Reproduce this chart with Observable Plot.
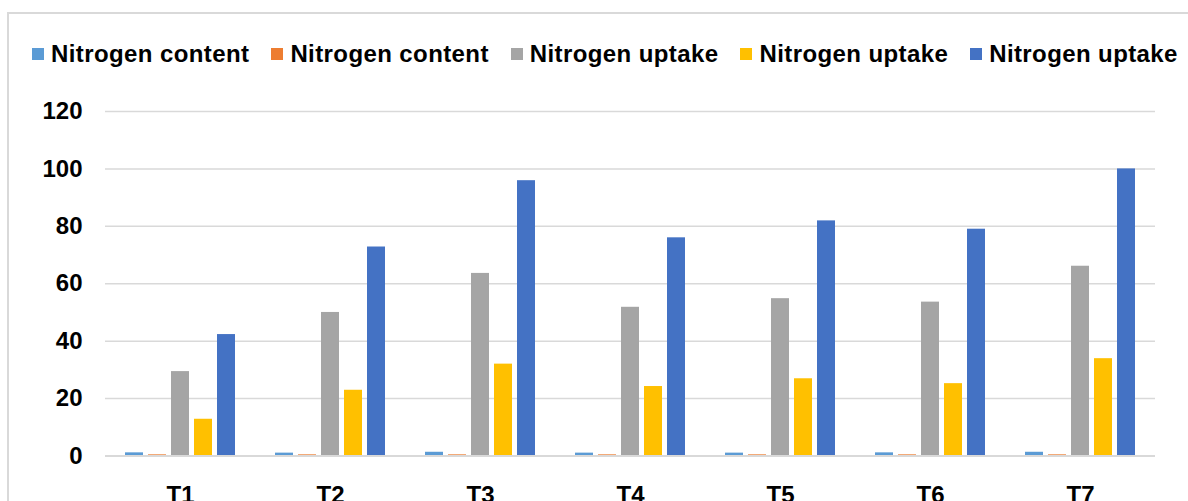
<!DOCTYPE html>
<html>
<head>
<meta charset="utf-8">
<script src="https://cdn.jsdelivr.net/npm/d3@7"></script>
<script src="https://cdn.jsdelivr.net/npm/@observablehq/plot@0.6"></script>
<style>
  html, body { margin: 0; padding: 0; background: #fff; }
  body { width: 1188px; height: 501px; overflow: hidden; position: relative; font-family: "Liberation Sans", Arial, sans-serif; }
  #frame { position: absolute; left: 7px; top: 12px; width: 1300px; height: 700px; border: 2px solid #d9d9d9; box-sizing: border-box; }
  #legend { position: absolute; left: 32px; top: 41px; height: 25px; display: flex; align-items: center; gap: 22px; font-weight: bold; font-size: 24px; letter-spacing: 0.4px; color: #000; white-space: nowrap; }
  .item { display: flex; align-items: center; }
  .sw { width: 12px; height: 12px; margin-right: 7px; }
  #chart { position: absolute; left: 0; top: 0; }
</style>
</head>
<body>
<div id="frame"></div>
<div id="chart"></div>
<div id="legend"></div>
<script>
const categories = ["T1", "T2", "T3", "T4", "T5", "T6", "T7"];
const seriesKeys = ["s1", "s2", "s3", "s4", "s5"];
const seriesNames = ["Nitrogen content", "Nitrogen content", "Nitrogen uptake", "Nitrogen uptake", "Nitrogen uptake"];
const seriesColors = ["#5B9BD5", "#ED7D31", "#A5A5A5", "#FFC000", "#4472C4"];
const contentA = [1.1, 1.0, 1.3, 1.0, 1.0, 1.1, 1.3];
const contentB = [0.4, 0.4, 0.4, 0.4, 0.4, 0.4, 0.4];
const uptakeGray = [29.4, 50.0, 63.6, 51.8, 54.8, 53.6, 66.1];
const uptakeYellow = [12.8, 22.9, 32.0, 24.2, 26.9, 25.2, 33.9];
const uptakeBlue = [42.3, 72.8, 95.9, 76.0, 81.9, 79.0, 100.0];
const yTicks = [0, 20, 40, 60, 80, 100, 120];

const seriesValues = [contentA, contentB, uptakeGray, uptakeYellow, uptakeBlue];
const data = [];
categories.forEach((c, i) => {
  seriesKeys.forEach((k, j) => {
    data.push({cat: c, key: k, value: seriesValues[j][i]});
  });
});

const legend = document.getElementById("legend");
seriesKeys.forEach((k, j) => {
  const it = document.createElement("div");
  it.className = "item";
  const sw = document.createElement("div");
  sw.className = "sw";
  sw.style.background = seriesColors[j];
  const tx = document.createElement("span");
  tx.textContent = seriesNames[j];
  it.appendChild(sw);
  it.appendChild(tx);
  legend.appendChild(it);
});

const chart = Plot.plot({
  width: 1188,
  height: 520,
  marginLeft: 102,
  marginRight: 31,
  marginTop: 111,
  marginBottom: 64.5,
  fx: {domain: categories, padding: 0, label: null},
  x: {domain: seriesKeys, paddingInner: 0.233, paddingOuter: 0.865, axis: null},
  y: {domain: [0, 120], axis: null},
  color: {domain: seriesKeys, range: seriesColors},
  style: {fontFamily: "'Liberation Sans', Arial, sans-serif", fontWeight: "bold", fontSize: "24px", color: "#000", background: "transparent", overflow: "visible"},
  marks: [
    Plot.ruleY(yTicks.filter(d => d > 0), {stroke: "#d9d9d9", strokeWidth: 1.5}),
    Plot.barY(data, {fx: "cat", x: "key", y: "value", fill: "key"}),
    Plot.ruleY([0], {stroke: "#d9d9d9", strokeWidth: 2}),
    Plot.axisY({ticks: yTicks, tickSize: 0, tickPadding: 23, fontSize: 24, fontWeight: "bold", label: null}),
    Plot.axisFx({anchor: "bottom", tickSize: 0, tickPadding: 29.5, fontSize: 24, fontWeight: "bold", label: null})
  ]
});
document.getElementById("chart").appendChild(chart);
</script>
</body>
</html>
